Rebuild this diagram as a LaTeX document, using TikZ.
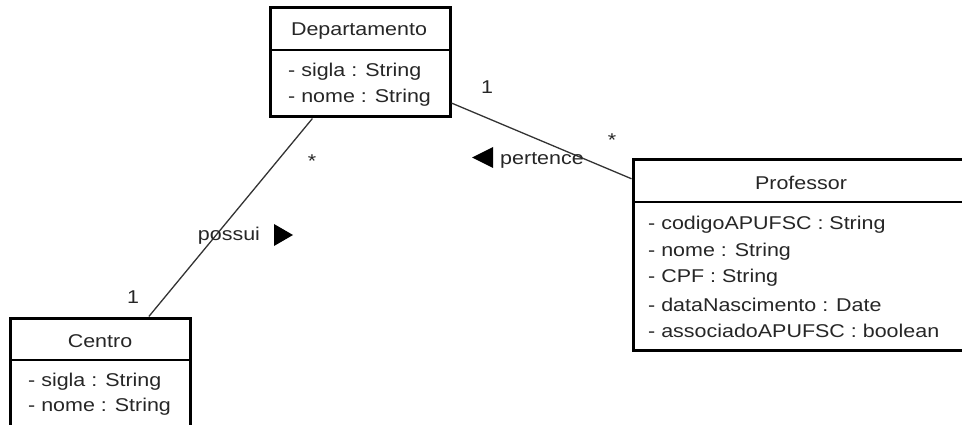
\documentclass[tikz,border=0pt]{standalone}
\usepackage{fontspec}
\setmainfont{Liberation Sans}[FakeStretch=1.16]
\usetikzlibrary{calc}
\begin{document}
\begin{tikzpicture}[x=1pt,y=-1pt,
  umlbox/.style={draw=black,line width=3pt,inner sep=0pt},
  sep/.style={draw=black,line width=1.3pt},
  txt/.style={inner sep=0pt,font=\fontsize{18.5}{20}\selectfont,text=black!85},
  attr/.style={txt,anchor=west},
  conn/.style={draw=black!80,line width=1.3pt},
  mult/.style={txt}]
\useasboundingbox (0,0) rectangle (962,425);
% boxes
\node[umlbox,minimum width=180pt,minimum height=109pt] (dep) at (360,62.5) {};
\node[umlbox,minimum width=180pt,minimum height=122pt] (cen) at (100,379) {};
\node[umlbox,minimum width=336pt,minimum height=190pt] (prof) at (801,255) {};
% separators
\draw[sep] (270,50) -- (450,50);
\draw[sep] (10,360) -- (190,360);
\draw[sep] (633,202) -- (969,202);
% texts
\node[txt] (depT) at (359,31) {Departamento};
\node[attr] (depA1) at (288,72) {- sigla : String};
\node[attr] (depA2) at (288,98) {- nome : String};
\node[txt] (cenT) at (100,341) {Centro};
\node[attr] (cenA1) at (28,382) {- sigla : String};
\node[attr] (cenA2) at (28,407) {- nome : String};
\node[txt] (profT) at (801,183) {Professor};
\node[attr] (p1) at (648,225) {- codigoAPUFSC : String};
\node[attr] (p2) at (648,251.5) {- nome : String};
\node[attr] (p3) at (648,278) {- CPF : String};
\node[attr] (p4) at (648,304.5) {- dataNascimento : Date};
\node[attr] (p5) at (648,331) {- associadoAPUFSC : boolean};
% connectors
\draw[conn] ($(dep.south west)!0.24!(dep.south east)$) -- ($(cen.north west)!0.767!(cen.north east)$);
\draw[conn] ($(dep.north east)!0.862!(dep.south east)$) -- ($(prof.north west)!0.105!(prof.south west)$);
% multiplicities
\node[mult] (m1) at (312,161) {*};
\node[mult] (m2) at (133,297) {1};
\node[mult] (m3) at (487,87) {1};
\node[mult] (m4) at (612,140) {*};
% association names
\node[txt] (possui) at (229,236) {possui};
\fill[black] (274,224) -- (293,235) -- (274,246) -- cycle;
\node[txt] (pertence) at (542,160) {pertence};
\fill[black] (493,147) -- (472,157.5) -- (493,168) -- cycle;
\end{tikzpicture}
\end{document}
